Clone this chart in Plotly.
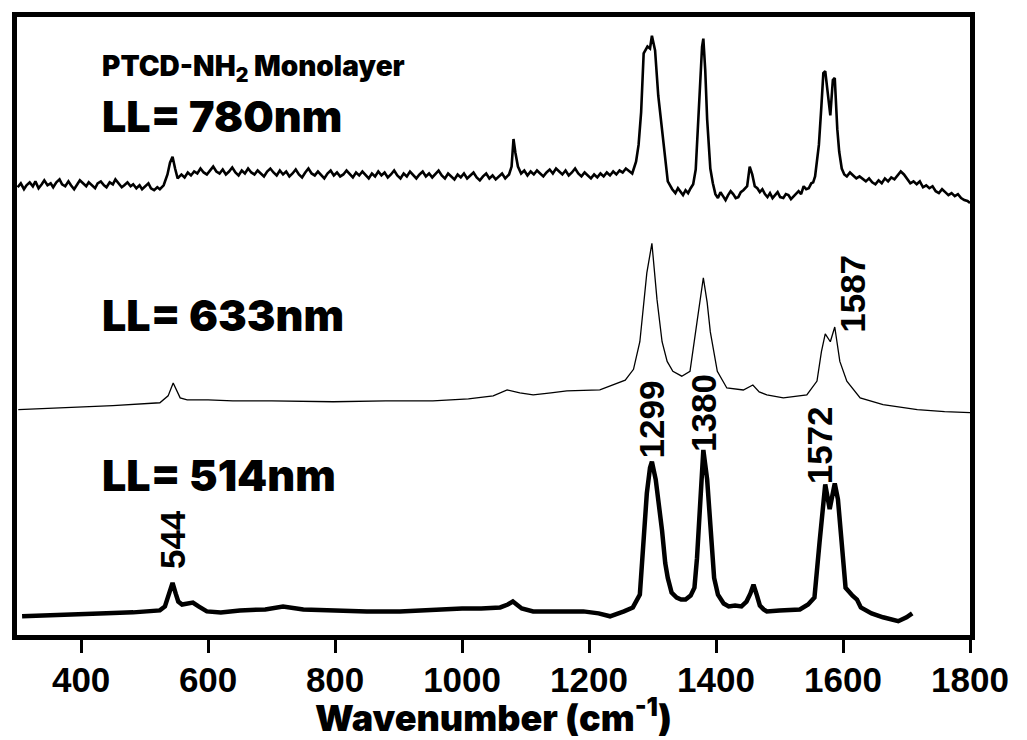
import plotly.graph_objects as go

# ---- LL = 514 nm (bottom spectrum, offset already included) ----
wn_514 = [307, 340, 400, 440, 482, 510, 524, 532, 538, 544, 549, 553, 559, 566, 576, 585, 598,
          620, 650, 690, 718, 750, 797, 850, 902, 954, 1000, 1030, 1060, 1072, 1080, 1086, 1094,
          1112, 1150, 1191, 1215, 1233, 1255, 1269, 1280, 1285, 1291, 1296, 1299, 1305, 1310,
          1315, 1320, 1324, 1330, 1338, 1345, 1352, 1360, 1366, 1370, 1374, 1380, 1386, 1391,
          1397, 1403, 1412, 1420, 1430, 1440, 1448, 1454, 1459, 1464, 1469, 1475, 1480, 1500,
          1532, 1545, 1555, 1563, 1568, 1572, 1579, 1587, 1592, 1596, 1604, 1615, 1622, 1628,
          1645, 1663, 1687, 1700, 1709]
int_514 = [21, 22, 23, 24, 25, 26, 27, 31, 42, 55, 44, 36, 33, 34, 35, 31, 26,
           25, 27, 28, 31, 28, 27, 26, 26, 28, 29, 29, 30, 33, 36, 33, 29,
           26, 26, 26, 24, 21, 26, 30, 43, 85, 146, 172, 178, 160, 135,
           108, 75, 60, 45, 40, 38, 38, 42, 50, 80, 120, 190, 160, 113,
           60, 43, 34, 31, 32, 31, 36, 44, 53, 43, 32, 28, 26, 27,
           28, 33, 40, 96, 135, 155, 130, 156, 140, 113, 50, 42, 38, 30,
           24, 20, 16, 20, 24]

# ---- LL = 633 nm (middle spectrum) ----
wn_633 = [301, 340, 378, 450, 524, 537, 545, 556, 567, 600, 639, 700, 797, 880, 954, 1010,
          1049, 1071, 1091, 1112, 1140, 1165, 1217, 1257, 1270, 1280, 1291, 1299, 1307, 1315,
          1323, 1332, 1346, 1359, 1370, 1380, 1386, 1391, 1402, 1417, 1443, 1458, 1468, 1480,
          1506, 1543, 1559, 1566, 1572, 1580, 1587, 1595, 1606, 1627, 1663, 1717, 1760, 1789, 1800]
int_633 = [231, 232, 233, 235, 238, 245, 258, 243, 241, 241, 240, 240, 239, 240, 240, 242,
           245, 251, 248, 246, 248, 250, 251, 261, 272, 300, 370, 400, 343, 300,
           280, 270, 265, 270, 320, 365, 340, 310, 270, 253, 251, 256, 249, 246,
           243, 246, 260, 290, 308, 300, 315, 280, 260, 243, 236, 231, 229, 228, 228]

# ---- LL = 780 nm (top spectrum, noisy) ----
wn_780 = [300, 305, 310, 314, 319, 324, 328, 333, 338, 342, 347, 352, 356, 361, 366, 370,
          375, 380, 384, 389, 394, 398, 403, 408, 412, 417, 422, 426, 431, 436, 440, 445,
          450, 454, 459, 464, 468, 473, 478, 482, 487, 492, 496, 501, 506, 510, 515, 520,
          524, 530, 536, 540, 544, 548, 552, 558, 563, 568, 573, 578, 583, 588, 593, 598,
          603, 608, 613, 618, 623, 628, 633, 638, 643, 648, 653, 658, 663, 668, 673, 678,
          683, 688, 693, 698, 703, 708, 713, 718, 723, 728, 733, 738, 743, 748, 753, 758,
          763, 768, 773, 778, 783, 788, 793, 798, 803, 808, 813, 818, 823, 828, 833, 838,
          843, 848, 853, 858, 863, 868, 873, 878, 883, 888, 893, 898, 903, 908, 913, 918,
          923, 928, 933, 938, 943, 948, 953, 958, 963, 968, 973, 978, 983, 988, 993, 998,
          1003, 1008, 1013, 1018, 1023, 1028, 1033, 1038, 1043, 1048, 1053, 1058, 1063, 1068, 1074, 1078,
          1081, 1084, 1088, 1093, 1098, 1103, 1108, 1113, 1118, 1123, 1128, 1133, 1138, 1143, 1148, 1153,
          1158, 1163, 1168, 1173, 1178, 1183, 1188, 1193, 1198, 1203, 1208, 1213, 1218, 1223, 1228, 1233,
          1238, 1243, 1248, 1253, 1258, 1263, 1268,
          1274, 1278, 1282, 1286, 1292, 1296, 1299, 1304, 1309, 1315, 1320, 1324, 1331, 1336, 1340, 1344,
          1348, 1352, 1356, 1360, 1364, 1368, 1372, 1375, 1378, 1380, 1383, 1386, 1391, 1395, 1399, 1403,
          1407, 1411, 1415, 1419, 1423, 1427, 1431, 1435, 1439, 1443, 1449, 1453, 1457, 1461, 1465, 1469,
          1473, 1477, 1481, 1485, 1489, 1493, 1497, 1501, 1506, 1510, 1514, 1518, 1522, 1526, 1530, 1534,
          1538, 1542, 1546, 1550, 1553, 1556, 1562, 1566, 1569, 1572, 1576, 1580, 1584, 1587, 1591, 1594,
          1598, 1602, 1606, 1611, 1616, 1621, 1626, 1631, 1636, 1641, 1646, 1651, 1656, 1661, 1666, 1671,
          1676, 1681, 1686, 1691, 1696, 1701, 1706, 1711, 1716, 1721, 1726, 1731, 1736, 1741, 1746, 1751,
          1756, 1761, 1766, 1771, 1776, 1781, 1786, 1791, 1796, 1800]
int_780 = [457, 461, 455, 459, 462, 458, 463, 456, 460, 464, 459, 461, 457, 462, 465, 460,
           458, 463, 459, 455, 460, 464, 461, 458, 462, 459, 456, 461, 463, 459, 457, 462,
           460, 465, 461, 457, 459, 462, 458, 460, 456, 459, 455, 458, 461, 456, 454, 457,
           455, 459, 470, 482, 488, 476, 466, 470, 467, 472, 469, 473, 471, 476, 472, 470,
           474, 478, 473, 471, 475, 470, 473, 477, 472, 469, 474, 471, 476, 472, 470, 474,
           471, 468, 473, 476, 472, 469, 474, 470, 473, 468, 471, 475, 470, 467, 472, 476,
           471, 469, 473, 470, 466, 471, 474, 469, 472, 468, 470, 474, 471, 467, 472, 469,
           473, 470, 466, 471, 468, 473, 469, 472, 467, 470, 474, 469, 466, 471, 468, 473,
           469, 466, 470, 473, 468, 471, 467, 470, 474, 469, 466, 471, 468, 465, 470, 467,
           471, 466, 469, 472, 467, 464, 468, 471, 466, 469, 465, 468, 471, 466, 470, 478,
           506, 492, 478, 471, 474, 469, 473, 470, 474, 471, 468, 472, 475, 471, 476, 473,
           470, 474, 469, 472, 476, 471, 468, 472, 469, 466, 470, 467, 471, 468, 472, 469,
           473, 470, 474, 472, 476, 473, 471,
           483, 500, 533, 593, 600, 598, 611, 596, 550, 516, 486, 463, 455, 451, 456, 452,
           449, 454, 451, 456, 460, 475, 520, 556, 600, 608, 576, 526, 476, 461, 450, 446,
           452, 448, 444, 449, 453, 450, 446, 447, 452, 454, 458, 478, 470, 458, 456, 452,
           455, 450, 447, 451, 446, 449, 452, 447, 446, 450, 449, 445, 448, 451, 453, 450,
           458, 455, 456, 461, 462, 468, 500, 540, 573, 575, 550, 530, 566, 568, 516, 493,
           476, 470, 468, 472, 469, 466, 468, 465, 463, 466, 462, 460, 464, 461, 466, 463,
           467, 465, 469, 473, 470, 466, 461, 463, 460, 463, 457, 459, 456, 458, 453, 451,
           455, 452, 449, 451, 448, 450, 446, 444, 443, 441]

# ---- text ----
tick_vals = [400, 600, 800, 1000, 1200, 1400, 1600, 1800]
peak_labels = ["544", "1299", "1380", "1572", "1587"]
peak_pos = [544, 1299, 1380, 1572, 1587]
peak_label_y = [99, 221, 228, 195, 349]
spectrum_labels = ["PTCD-NH<sub>2</sub> Monolayer", "LL= 780nm", "LL= 633nm", "LL= 514nm"]
spectrum_label_y = [578, 529, 327, 165]

fig = go.Figure()
fig.add_trace(go.Scatter(x=wn_780, y=int_780, mode="lines",
                         line=dict(color="black", width=2.6)))
fig.add_trace(go.Scatter(x=wn_633, y=int_633, mode="lines",
                         line=dict(color="black", width=1.3)))
fig.add_trace(go.Scatter(x=wn_514, y=int_514, mode="lines",
                         line=dict(color="black", width=4.5)))

heavy = "Inter"
for i, txt in enumerate(spectrum_labels):
    size = 28 if i == 0 else 43
    fig.add_annotation(x=430, y=spectrum_label_y[i], text=txt, showarrow=False,
                       xanchor="left", yanchor="middle",
                       font=dict(family=heavy, size=size, color="black", weight=900))

peak_font = dict(family="Liberation Sans, Arial", size=35, color="black", weight="bold")
peak_shift = [0, 0, 0, -6, -4]
for txt, xp, yp, sh in zip(peak_labels, peak_pos, peak_label_y, peak_shift):
    anchor = "left" if txt == "1587" else "center"
    fig.add_annotation(x=xp, y=yp, text=txt, showarrow=False, textangle=-90,
                       xanchor=anchor, yanchor="middle", xshift=sh, font=peak_font)

fig.update_layout(
    width=1027, height=740,
    margin=dict(l=17, r=57, t=13, b=99),
    plot_bgcolor="white", paper_bgcolor="white",
    showlegend=False,
)
fig.update_xaxes(
    range=[299, 1800], tickvals=tick_vals,
    ticks="outside", ticklen=13, tickwidth=3, tickcolor="black",
    showline=True, linewidth=4.5, linecolor="black", mirror=True,
    showgrid=False, zeroline=False, ticklabelstandoff=-3,
    tickfont=dict(family="Liberation Sans, Arial", size=35, color="black", weight="bold"),
    title=dict(text="Wavenumber (cm<sup>-1</sup>)", standoff=4,
               font=dict(family=heavy, size=36, color="black", weight=900)),
)
fig.update_yaxes(
    range=[2, 630], showticklabels=False, ticks="",
    showline=True, linewidth=4.5, linecolor="black", mirror=True,
    showgrid=False, zeroline=False,
)

fig.write_html("out.html")
